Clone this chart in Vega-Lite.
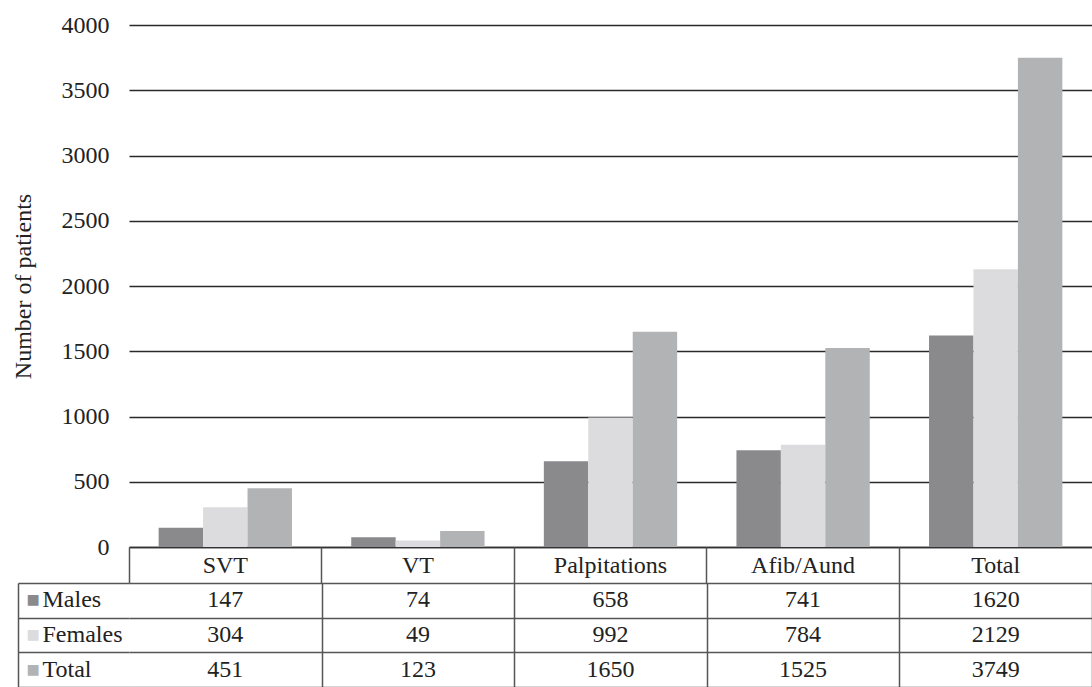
{
  "$schema": "https://vega.github.io/schema/vega-lite/v6.json",
  "padding": {"left": 11, "top": 13, "right": 0, "bottom": 0},
  "spacing": 36,
  "bounds": "flush",
  "config": {"view": {"stroke": null}, "font": "Liberation Serif, serif"},
  "datasets": {
    "patients": [
      {"category": "SVT", "series": "Males", "value": 147},
      {"category": "SVT", "series": "Females", "value": 304},
      {"category": "SVT", "series": "Total", "value": 451},
      {"category": "VT", "series": "Males", "value": 74},
      {"category": "VT", "series": "Females", "value": 49},
      {"category": "VT", "series": "Total", "value": 123},
      {"category": "Palpitations", "series": "Males", "value": 658},
      {"category": "Palpitations", "series": "Females", "value": 992},
      {"category": "Palpitations", "series": "Total", "value": 1650},
      {"category": "Afib/Aund", "series": "Males", "value": 741},
      {"category": "Afib/Aund", "series": "Females", "value": 784},
      {"category": "Afib/Aund", "series": "Total", "value": 1525},
      {"category": "Total", "series": "Males", "value": 1620},
      {"category": "Total", "series": "Females", "value": 2129},
      {"category": "Total", "series": "Total", "value": 3749}
    ]
  },
  "vconcat": [
    {
      "width": 963,
      "height": 522,
      "data": {"name": "patients"},
      "layer": [
        {
          "mark": {"type": "bar"},
          "encoding": {
            "x": {
              "field": "category", "type": "nominal",
              "sort": ["SVT", "VT", "Palpitations", "Afib/Aund", "Total"],
              "scale": {"paddingInner": 0, "paddingOuter": 0},
              "axis": {
                "title": null, "orient": "bottom", "labelAngle": 0,
                "labelFont": "Liberation Serif, serif", "labelFontSize": 24, "labelColor": "#222",
                "labelPadding": 6, "ticks": false, "grid": false,
                "domain": true, "domainColor": "#333", "domainWidth": 1.5
              }
            },
            "xOffset": {
              "field": "series", "type": "nominal",
              "sort": ["Males", "Females", "Total"],
              "scale": {"paddingInner": 0, "paddingOuter": 0.667}
            },
            "y": {
              "field": "value", "type": "quantitative",
              "scale": {"domain": [0, 4000]},
              "axis": {
                "title": "Number of patients",
                "titleFont": "Liberation Serif, serif", "titleFontSize": 24, "titleFontWeight": "normal",
                "titleColor": "#222", "titlePadding": 26,
                "values": [0, 500, 1000, 1500, 2000, 2500, 3000, 3500, 4000],
                "format": "d",
                "labelFont": "Liberation Serif, serif", "labelFontSize": 24, "labelColor": "#222",
                "labelPadding": 20, "ticks": false, "domain": false,
                "grid": true, "gridColor": "#2a2a2a", "gridWidth": 1.5
              }
            },
            "color": {
              "field": "series", "type": "nominal",
              "scale": {"domain": ["Males", "Females", "Total"], "range": ["#8a8a8c", "#dcdcde", "#b2b3b5"]},
              "legend": null
            }
          }
        },
        {
          "mark": {"type": "text", "text": "", "opacity": 0},
          "encoding": {
            "x": {
              "field": "category", "type": "nominal",
              "sort": ["SVT", "VT", "Palpitations", "Afib/Aund", "Total"],
              "axis": {
                "title": null, "orient": "bottom", "labels": false, "domain": false, "grid": false,
                "ticks": true, "tickSize": 36, "bandPosition": 0, "tickColor": "#555", "tickWidth": 1.5
              }
            }
          }
        }
      ],
      "resolve": {"axis": {"x": "independent"}}
    },
    {
      "width": 963,
      "height": 104,
      "data": {"name": "patients"},
      "layer": [
        {
          "mark": {"type": "text", "font": "Liberation Serif, serif", "fontSize": 24, "color": "#222"},
          "encoding": {
            "x": {
              "field": "category", "type": "nominal",
              "sort": ["SVT", "VT", "Palpitations", "Afib/Aund", "Total"],
              "scale": {"paddingInner": 0, "paddingOuter": 0},
              "axis": {
                "title": null, "orient": "top", "labels": false, "ticks": false, "domain": false,
                "grid": true, "tickBand": "extent", "gridWidth": 1.5,
                "gridColor": {"condition": {"test": "datum.extra", "value": "transparent"}, "value": "#555"}
              }
            },
            "y": {
              "field": "series", "type": "nominal",
              "sort": ["Males", "Females", "Total"],
              "scale": {"paddingInner": 0, "paddingOuter": 0},
              "axis": {
                "title": null, "orient": "left", "labels": false, "domain": false,
                "ticks": true, "tickSize": 111, "tickBand": "extent", "tickColor": "#555", "tickWidth": 1.5,
                "grid": true, "gridColor": "#555", "gridWidth": 1.5
              }
            },
            "text": {"field": "value", "type": "quantitative"}
          }
        },
        {
          "mark": {"type": "text", "text": "", "opacity": 0},
          "encoding": {
            "y": {
              "field": "series", "type": "nominal",
              "sort": ["Males", "Females", "Total"],
              "axis": {
                "title": null, "orient": "left", "domain": false, "ticks": false, "tickSize": 0, "grid": false,
                "labelExpr": "'■'", "labelFont": "DejaVu Sans", "labelFontSize": 14,
                "labelAlign": "left", "labelPadding": 103,
                "labelColor": {
                  "condition": [
                    {"test": "datum.value === 'Males'", "value": "#8a8a8c"},
                    {"test": "datum.value === 'Females'", "value": "#dcdcde"}
                  ],
                  "value": "#b2b3b5"
                }
              }
            }
          }
        },
        {
          "mark": {"type": "text", "text": "", "opacity": 0},
          "encoding": {
            "y": {
              "field": "series", "type": "nominal",
              "sort": ["Males", "Females", "Total"],
              "axis": {
                "title": null, "orient": "left", "domain": false, "ticks": false, "tickSize": 0, "grid": false,
                "labelFont": "Liberation Serif, serif", "labelFontSize": 24, "labelColor": "#222",
                "labelAlign": "left", "labelPadding": 87
              }
            }
          }
        },
        {
          "mark": {"type": "text", "text": "", "opacity": 0},
          "encoding": {
            "y": {
              "field": "series", "type": "nominal",
              "sort": ["Males", "Females", "Total"],
              "axis": {
                "title": null, "orient": "left", "labels": false, "ticks": false, "grid": false,
                "domain": true, "domainColor": "#555", "domainWidth": 1.5, "offset": 111
              }
            }
          }
        }
      ],
      "resolve": {"axis": {"y": "independent"}}
    }
  ]
}
